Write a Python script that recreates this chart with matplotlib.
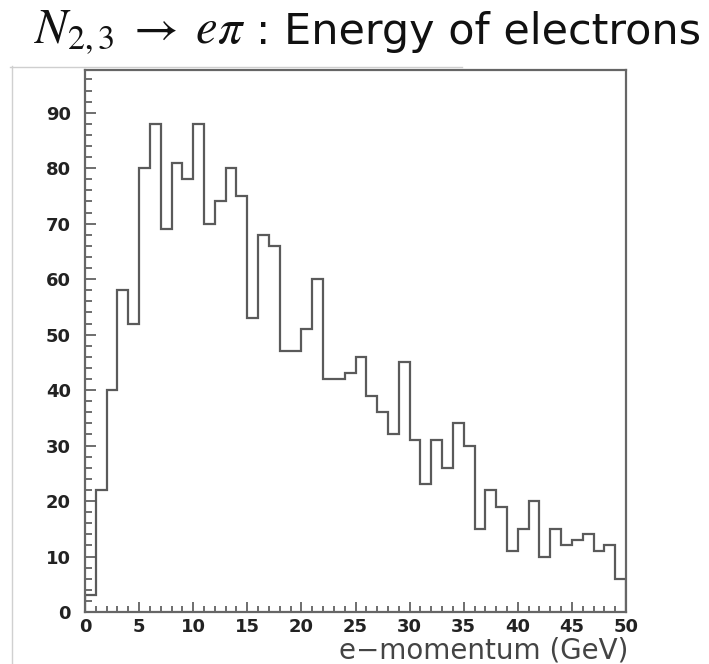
import numpy as np
import matplotlib
matplotlib.use("Agg")
import matplotlib.pyplot as plt
from matplotlib.lines import Line2D
from matplotlib.ticker import MultipleLocator

# ---------------------------------------------------------------------------
# Data: electron momentum histogram, 1 GeV bins from 0 to 50 GeV
# ---------------------------------------------------------------------------
bin_edges = list(range(0, 51))
counts = [3, 22, 40, 58, 52, 80, 88, 69, 81, 78,
          88, 70, 74, 80, 75, 53, 68, 66, 47, 47,
          51, 60, 42, 42, 43, 46, 39, 36, 32, 45,
          31, 23, 31, 26, 34, 30, 15, 22, 19, 11,
          15, 20, 10, 15, 12, 13, 14, 11, 12, 6]

title_math = r"$N_{2,3} \;\rightarrow\; e\pi$"
title_rest = ": Energy of electrons"
x_label = "e\u2212momentum (GeV)"

plt.rcParams['mathtext.fontset'] = 'stix'
plt.rcParams['font.family'] = ['DejaVu Sans']

W, H = 709, 664
fig = plt.figure(figsize=(W / 100, H / 100), dpi=100)

# axes box in pixel terms: x 85..626, y 70..612 (from top)
ax = fig.add_axes([85 / W, (H - 612) / H, (626 - 85) / W, (612 - 70) / H])

line_col = '#5a5a5a'
ax.stairs(counts, bin_edges, color=line_col, lw=1.6, baseline=0)

ax.set_xlim(0, 50)
ax.set_ylim(0, 97.7)

for s in ax.spines.values():
    s.set_color('#666666')
    s.set_linewidth(1.6)

ax.xaxis.set_major_locator(MultipleLocator(5))
ax.xaxis.set_minor_locator(MultipleLocator(1))
ax.yaxis.set_major_locator(MultipleLocator(10))
ax.yaxis.set_minor_locator(MultipleLocator(2))

ax.tick_params(axis='both', which='both', direction='in', colors='#555555',
               top=False, right=False, width=1.2)
ax.tick_params(axis='x', which='major', length=7, pad=4)
ax.tick_params(axis='x', which='minor', length=4)
ax.tick_params(axis='y', which='major', length=8, pad=10)
ax.tick_params(axis='y', which='minor', length=5)

for lab in ax.get_xticklabels() + ax.get_yticklabels():
    lab.set_fontsize(13)
    lab.set_fontweight('bold')
    lab.set_color('#222222')

# x label, right aligned under the box
fig.text(628 / W, (H - 658) / H, x_label, ha='right', va='baseline',
         fontsize=20, color='#444444')

# title: math part then plain text
fig.text(34 / W, (H - 44) / H, title_math, ha='left', va='baseline',
         fontsize=35, color='#111111')
fig.text(256 / W, (H - 44) / H, title_rest, ha='left', va='baseline',
         fontsize=31, color='#111111')

# faint frame lines of the slide
fig.add_artist(Line2D([12 / W, 12 / W], [0, (H - 66) / H],
                      color='#d0d0d0', lw=1.0))
fig.add_artist(Line2D([10 / W, 462 / W], [(H - 67) / H, (H - 67) / H],
                      color='#cfcfcf', lw=1.0))

fig.savefig("out.png", dpi=100)
